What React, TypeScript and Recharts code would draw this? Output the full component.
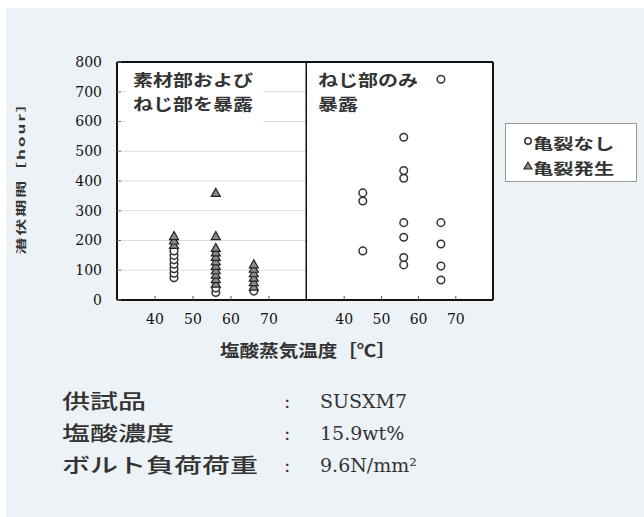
import { ScatterChart, Scatter, XAxis, YAxis, CartesianGrid, ReferenceLine, Legend } from 'recharts';

const TEMPS = [45, 56, 66];
const X_TICKS = [40, 50, 60, 70];
const Y_TICKS = [0, 100, 200, 300, 400, 500, 600, 700, 800];

// 素材部およびねじ部を暴露 (one list per temperature)
const BOTH_NO_CRACK = [[75, 90, 105, 120, 135, 150, 165], [25, 40], [30]];
const BOTH_CRACK = [
  [185, 200, 215],
  [55, 70, 85, 100, 115, 130, 145, 160, 175, 215, 360],
  [45, 60, 75, 90, 105, 120],
];
// ねじ部のみ暴露
const THREAD_NO_CRACK = [[165, 333, 360], [118, 143, 211, 260, 409, 435, 547], [67, 114, 188, 260, 742]];

const toPoints = (cols: number[][]) => cols.flatMap((hs, i) => hs.map((h) => ({ t: TEMPS[i], h })));

const SERIF = '"DejaVu Serif", "Liberation Serif", serif';
const JP = '"Noto Sans CJK JP", sans-serif';
const INK = '#333';

const OpenCircle = (props: any) => (
  <circle cx={props.cx} cy={props.cy} r={3.8} fill="#fff" stroke={INK} strokeWidth={1.5} />
);

const Triangle = (props: any) => {
  const { cx, cy } = props;
  return (
    <polygon
      points={`${cx},${cy - 4.5} ${cx - 4.5},${cy + 3.5} ${cx + 4.5},${cy + 3.5}`}
      fill="#8a8a8a"
      stroke="#222"
      strokeWidth={1.2}
    />
  );
};

const tickStyle = { fontFamily: SERIF, fontSize: 14, fill: '#111' };

const Stretch = ({ sx, style, children }: any) => (
  <div
    style={{
      position: 'absolute',
      whiteSpace: 'nowrap',
      transform: `scaleX(${sx})`,
      transformOrigin: 'left top',
      color: INK,
      ...style,
    }}
  >
    {children}
  </div>
);

const YLabel = (props: any) => {
  const vb = props.viewBox || { x: 0, y: 0, height: 0 };
  const cx = vb.x + 21;
  const cy = vb.y + vb.height / 2 - 7;
  return (
    <text
      transform={`translate(${cx},${cy}) rotate(-90) scale(1,0.6)`}
      textAnchor="middle"
      dominantBaseline="central"
      fontFamily={JP}
      fontSize={17}
      fontWeight={700}
      letterSpacing={2}
      fill={INK}
    >
      潜伏期間［hour］
    </text>
  );
};

const LegendBox = () => (
  <div
    style={{
      position: 'relative',
      width: 132,
      height: 59,
      background: '#fff',
      border: '1px solid #999',
      boxSizing: 'border-box',
    }}
  >
    <svg style={{ position: 'absolute', left: 17, top: 12 }} width={10} height={40}>
      <circle cx={5} cy={5} r={3.2} fill="#fff" stroke={INK} strokeWidth={1.5} />
      <polygon points="5,26 1,33 9,33" fill="#8a8a8a" stroke="#222" strokeWidth={1.1} />
    </svg>
    <Stretch sx={1.4} style={{ left: 27, top: 6, fontFamily: JP, fontSize: 14.5, lineHeight: '25px', fontWeight: 700 }}>
      <div>亀裂なし</div>
      <div>亀裂発生</div>
    </Stretch>
  </div>
);

export default function App() {
  return (
    <div style={{ position: 'absolute', left: 0, top: 0, width: 644, height: 517, background: '#fff', overflow: 'hidden' }}>
      <div style={{ position: 'absolute', left: 6, top: 8, right: 0, bottom: 0, background: '#edf2f7' }} />

      <div style={{ position: 'absolute', left: 0, top: 0 }}>
        <ScatterChart width={310} height={340} margin={{ top: 62, right: 3, bottom: 10, left: 0 }}>
          <CartesianGrid vertical={false} stroke="#dcdcdc" fill="#fff" />
          <XAxis
            type="number"
            dataKey="t"
            domain={[30, 80]}
            ticks={X_TICKS}
            height={30}
            axisLine={{ stroke: '#111', strokeWidth: 2 }}
            tickLine={{ stroke: '#555' }}
            tickSize={-4}
            tickMargin={18}
            tick={tickStyle}
          />
          <YAxis
            type="number"
            dataKey="h"
            domain={[0, 800]}
            ticks={Y_TICKS}
            width={117}
            axisLine={{ stroke: '#111', strokeWidth: 2 }}
            tickLine={{ stroke: '#777' }}
            tickSize={-4}
            tickMargin={19}
            tick={tickStyle}
            label={<YLabel />}
          />
          <ReferenceLine y={800} stroke="#111" strokeWidth={2} />
          <ReferenceLine x={80} stroke="#111" strokeWidth={3} />
          <Scatter data={toPoints(BOTH_NO_CRACK)} shape={OpenCircle} isAnimationActive={false} />
          <Scatter data={toPoints(BOTH_CRACK)} shape={Triangle} isAnimationActive={false} />
        </ScatterChart>
      </div>

      <div style={{ position: 'absolute', left: 307, top: 0 }}>
        <ScatterChart width={337} height={340} margin={{ top: 62, right: 151, bottom: 10, left: 0 }}>
          <CartesianGrid vertical={false} stroke="#dcdcdc" fill="#fff" />
          <XAxis
            type="number"
            dataKey="t"
            domain={[30, 80]}
            ticks={X_TICKS}
            height={30}
            axisLine={{ stroke: '#111', strokeWidth: 2 }}
            tickLine={{ stroke: '#555' }}
            tickSize={-4}
            tickMargin={18}
            tick={tickStyle}
          />
          <YAxis
            type="number"
            dataKey="h"
            domain={[0, 800]}
            ticks={Y_TICKS}
            width={0}
            tick={false}
            tickLine={false}
            axisLine={{ stroke: '#111', strokeWidth: 3 }}
          />
          <ReferenceLine y={800} stroke="#111" strokeWidth={2} />
          <ReferenceLine x={80} stroke="#111" strokeWidth={2} />
          <Legend
            layout="horizontal"
            align="center"
            verticalAlign="middle"
            content={<LegendBox />}
            wrapperStyle={{ position: 'absolute', left: 198, top: 123, width: 132, height: 59 }}
          />
          <Scatter data={toPoints(THREAD_NO_CRACK)} shape={OpenCircle} isAnimationActive={false} />
        </ScatterChart>
      </div>

      {/* panel notes on white so the grid breaks behind them */}
      <div style={{ position: 'absolute', left: 125, top: 66, width: 138, height: 59, background: '#fff' }} />
      <Stretch sx={1.25} style={{ left: 133, top: 68, fontFamily: JP, fontSize: 16, lineHeight: '23.5px', fontWeight: 700 }}>
        <div>素材部および</div>
        <div>ねじ部を暴露</div>
      </Stretch>
      <div style={{ position: 'absolute', left: 309, top: 66, width: 113, height: 46, background: '#fff' }} />
      <Stretch sx={1.25} style={{ left: 318, top: 68, fontFamily: JP, fontSize: 16, lineHeight: '23.5px', fontWeight: 700 }}>
        <div>ねじ部のみ</div>
        <div>暴露</div>
      </Stretch>

      <Stretch sx={1.15} style={{ left: 220, top: 339, fontFamily: JP, fontSize: 17, lineHeight: '22px', fontWeight: 700 }}>
        塩酸蒸気温度［℃］
      </Stretch>

      <Stretch sx={1.4} style={{ left: 62, top: 385, fontFamily: JP, fontSize: 20, lineHeight: '32px', fontWeight: 500 }}>
        <div>供試品</div>
        <div>塩酸濃度</div>
        <div>ボルト負荷荷重</div>
      </Stretch>
      <div style={{ position: 'absolute', left: 284, top: 385, fontFamily: SERIF, fontSize: 19, lineHeight: '32px', color: INK }}>
        <div>:</div>
        <div>:</div>
        <div>:</div>
      </div>
      <div style={{ position: 'absolute', left: 320, top: 385, fontFamily: SERIF, fontSize: 19, lineHeight: '32px', color: INK }}>
        <div>SUSXM7</div>
        <div>15.9wt%</div>
        <div>9.6N/mm²</div>
      </div>
    </div>
  );
}
